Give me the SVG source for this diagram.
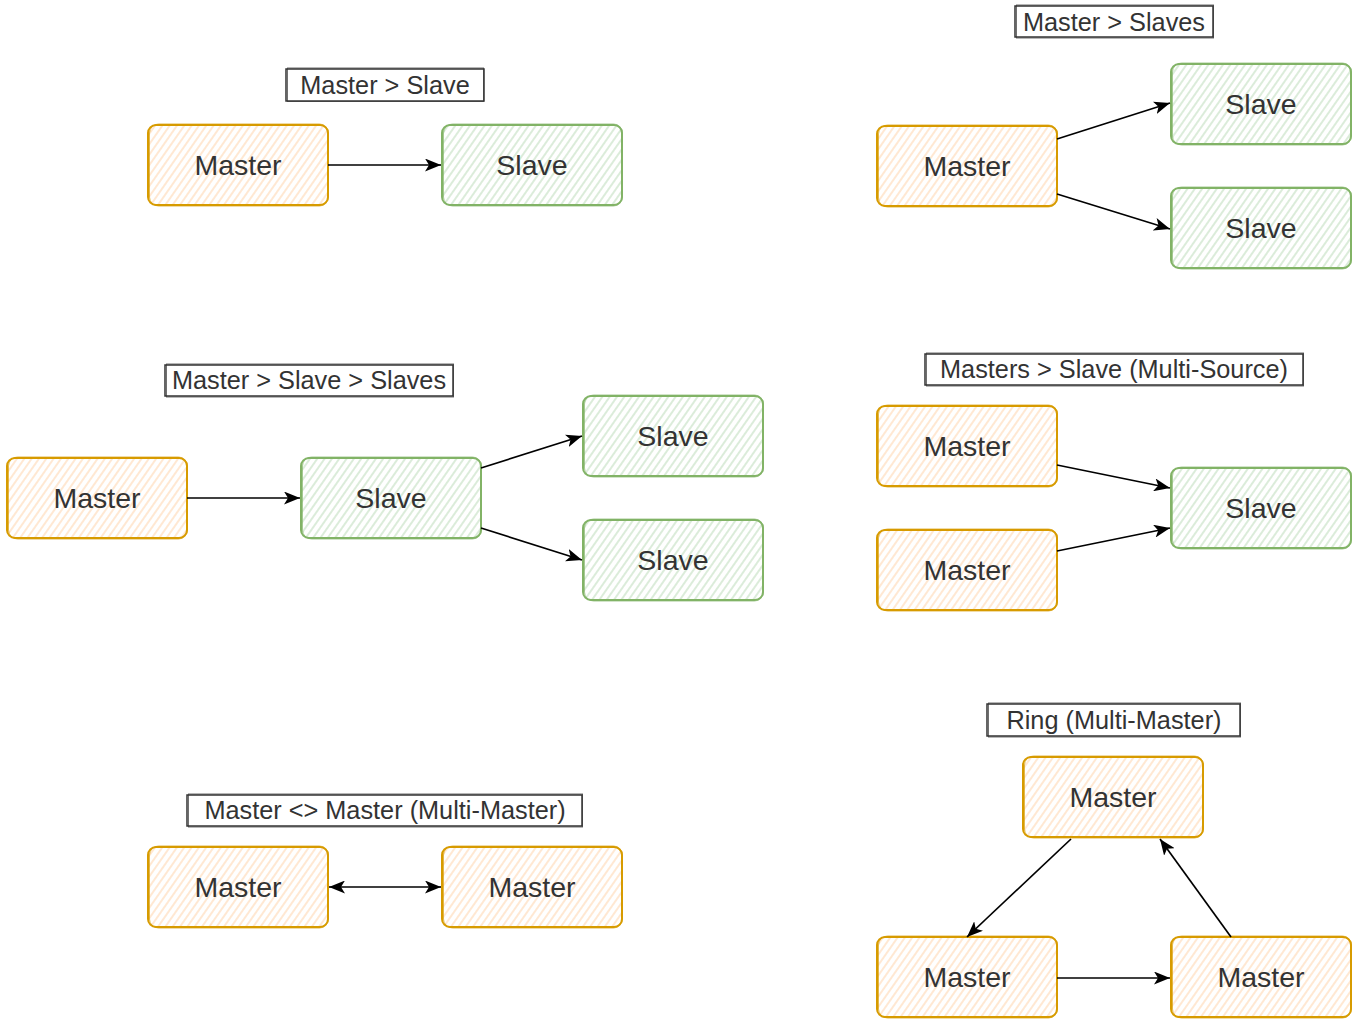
<svg xmlns="http://www.w3.org/2000/svg" width="1368" height="1027" viewBox="0 0 1368 1027">
<style>
  text{font-family:"Liberation Sans",Arial,sans-serif;fill:#333333;text-anchor:middle}
  .lbl{font-size:28.5px}
  .ttl{font-size:25.3px}
  .m{fill:url(#hm);stroke:#d79b00;stroke-width:2}
  .s{fill:url(#hs);stroke:#82b366;stroke-width:2}
  .m2{fill:none;stroke:#d79b00;stroke-width:1;opacity:.7}
  .s2{fill:none;stroke:#82b366;stroke-width:1;opacity:.7}
  .t{fill:#ffffff;stroke:#333333;stroke-width:1.5}
  .t2{fill:none;stroke:#333333;stroke-width:1;opacity:.7}
  .e{fill:none;stroke:#000000;stroke-width:1.7}
</style>
<defs>
  <pattern id="hm" width="6" height="6" patternUnits="userSpaceOnUse" patternTransform="rotate(35)">
    <rect width="6" height="6" fill="#ffffff"/>
    <line x1="1" y1="0" x2="1" y2="6" stroke="#ffdcbb" stroke-width="1.3"/>
  </pattern>
  <pattern id="hs" width="6" height="6" patternUnits="userSpaceOnUse" patternTransform="rotate(35)">
    <rect width="6" height="6" fill="#ffffff"/>
    <line x1="1" y1="0" x2="1" y2="6" stroke="#c9e2c7" stroke-width="1.3"/>
  </pattern>
  <marker id="arr" markerUnits="userSpaceOnUse" markerWidth="16" markerHeight="13" refX="16" refY="6.5" orient="auto-start-reverse" viewBox="0 0 16 13">
    <path d="M0,0 L16,6.5 L0,13 L4,6.5 z" fill="#000000"/>
  </marker>
</defs>

<!-- titles -->
<g id="title1"><rect class="t" x="286" y="69" width="198" height="32"/><rect class="t2" x="287.5" y="68" width="196" height="33.5"/><text class="ttl" x="385" y="94">Master &gt; Slave</text></g>
<g id="title2"><rect class="t" x="1015" y="6" width="198" height="31"/><rect class="t2" x="1016.5" y="5" width="197" height="33"/><text class="ttl" x="1114" y="31">Master &gt; Slaves</text></g>
<g id="title3"><rect class="t" x="165" y="365" width="288" height="31"/><rect class="t2" x="166.5" y="364" width="287" height="33"/><text class="ttl" x="309" y="389">Master &gt; Slave &gt; Slaves</text></g>
<g id="title4"><rect class="t" x="925" y="354" width="378" height="31"/><rect class="t2" x="926.5" y="353" width="377" height="33"/><text class="ttl" x="1114" y="378">Masters &gt; Slave (Multi-Source)</text></g>
<g id="title5"><rect class="t" x="187" y="795" width="395" height="31"/><rect class="t2" x="188.5" y="794" width="394" height="33"/><text class="ttl" x="385" y="819">Master &lt;&gt; Master (Multi-Master)</text></g>
<g id="title6"><rect class="t" x="987" y="704" width="253" height="32"/><rect class="t2" x="988.5" y="703" width="252" height="34"/><text class="ttl" x="1114" y="729">Ring (Multi-Master)</text></g>

<!-- nodes -->
<g id="g1master"><rect class="m" x="148" y="125" width="180" height="80" rx="8"/><rect class="m2" x="149.5" y="124" width="179" height="82" rx="9"/><text class="lbl" x="238" y="175">Master</text></g>
<g id="g1slave"><rect class="s" x="442" y="125" width="180" height="80" rx="8"/><rect class="s2" x="443.5" y="124" width="179" height="82" rx="9"/><text class="lbl" x="532" y="175">Slave</text></g>

<g id="g2master"><rect class="m" x="877" y="126" width="180" height="80" rx="8"/><rect class="m2" x="878.5" y="125" width="179" height="82" rx="9"/><text class="lbl" x="967" y="176">Master</text></g>
<g id="g2slave1"><rect class="s" x="1171" y="64" width="180" height="80" rx="8"/><rect class="s2" x="1172.5" y="63" width="179" height="82" rx="9"/><text class="lbl" x="1261" y="114">Slave</text></g>
<g id="g2slave2"><rect class="s" x="1171" y="188" width="180" height="80" rx="8"/><rect class="s2" x="1172.5" y="187" width="179" height="82" rx="9"/><text class="lbl" x="1261" y="238">Slave</text></g>

<g id="g3master"><rect class="m" x="7" y="458" width="180" height="80" rx="8"/><rect class="m2" x="8.5" y="457" width="179" height="82" rx="9"/><text class="lbl" x="97" y="508">Master</text></g>
<g id="g3slave"><rect class="s" x="301" y="458" width="180" height="80" rx="8"/><rect class="s2" x="302.5" y="457" width="179" height="82" rx="9"/><text class="lbl" x="391" y="508">Slave</text></g>
<g id="g3slave1"><rect class="s" x="583" y="396" width="180" height="80" rx="8"/><rect class="s2" x="584.5" y="395" width="179" height="82" rx="9"/><text class="lbl" x="673" y="446">Slave</text></g>
<g id="g3slave2"><rect class="s" x="583" y="520" width="180" height="80" rx="8"/><rect class="s2" x="584.5" y="519" width="179" height="82" rx="9"/><text class="lbl" x="673" y="570">Slave</text></g>

<g id="g4master1"><rect class="m" x="877" y="406" width="180" height="80" rx="8"/><rect class="m2" x="878.5" y="405" width="179" height="82" rx="9"/><text class="lbl" x="967" y="456">Master</text></g>
<g id="g4master2"><rect class="m" x="877" y="530" width="180" height="80" rx="8"/><rect class="m2" x="878.5" y="529" width="179" height="82" rx="9"/><text class="lbl" x="967" y="580">Master</text></g>
<g id="g4slave"><rect class="s" x="1171" y="468" width="180" height="80" rx="8"/><rect class="s2" x="1172.5" y="467" width="179" height="82" rx="9"/><text class="lbl" x="1261" y="518">Slave</text></g>

<g id="g5master1"><rect class="m" x="148" y="847" width="180" height="80" rx="8"/><rect class="m2" x="149.5" y="846" width="179" height="82" rx="9"/><text class="lbl" x="238" y="897">Master</text></g>
<g id="g5master2"><rect class="m" x="442" y="847" width="180" height="80" rx="8"/><rect class="m2" x="443.5" y="846" width="179" height="82" rx="9"/><text class="lbl" x="532" y="897">Master</text></g>

<g id="g6top"><rect class="m" x="1023" y="757" width="180" height="80" rx="8"/><rect class="m2" x="1024.5" y="756" width="179" height="82" rx="9"/><text class="lbl" x="1113" y="807">Master</text></g>
<g id="g6left"><rect class="m" x="877" y="937" width="180" height="80" rx="8"/><rect class="m2" x="878.5" y="936" width="179" height="82" rx="9"/><text class="lbl" x="967" y="987">Master</text></g>
<g id="g6right"><rect class="m" x="1171" y="937" width="180" height="80" rx="8"/><rect class="m2" x="1172.5" y="936" width="179" height="82" rx="9"/><text class="lbl" x="1261" y="987">Master</text></g>

<!-- connectors -->
<g id="connectors">
  <line class="e" x1="328" y1="165" x2="441" y2="165" marker-end="url(#arr)"/>
  <line class="e" x1="1057" y1="139" x2="1170" y2="103" marker-end="url(#arr)"/>
  <line class="e" x1="1057" y1="194" x2="1170" y2="229" marker-end="url(#arr)"/>
  <line class="e" x1="187" y1="498" x2="300" y2="498" marker-end="url(#arr)"/>
  <line class="e" x1="481" y1="468" x2="582" y2="436" marker-end="url(#arr)"/>
  <line class="e" x1="481" y1="528" x2="582" y2="560" marker-end="url(#arr)"/>
  <line class="e" x1="1057" y1="465" x2="1170" y2="488" marker-end="url(#arr)"/>
  <line class="e" x1="1057" y1="551" x2="1170" y2="528" marker-end="url(#arr)"/>
  <line class="e" x1="329" y1="887" x2="441" y2="887" marker-start="url(#arr)" marker-end="url(#arr)"/>
  <line class="e" x1="1071" y1="839" x2="967" y2="937" marker-end="url(#arr)"/>
  <line class="e" x1="1231" y1="937" x2="1160" y2="839" marker-end="url(#arr)"/>
  <line class="e" x1="1057" y1="978" x2="1170" y2="978" marker-end="url(#arr)"/>
</g>
</svg>
